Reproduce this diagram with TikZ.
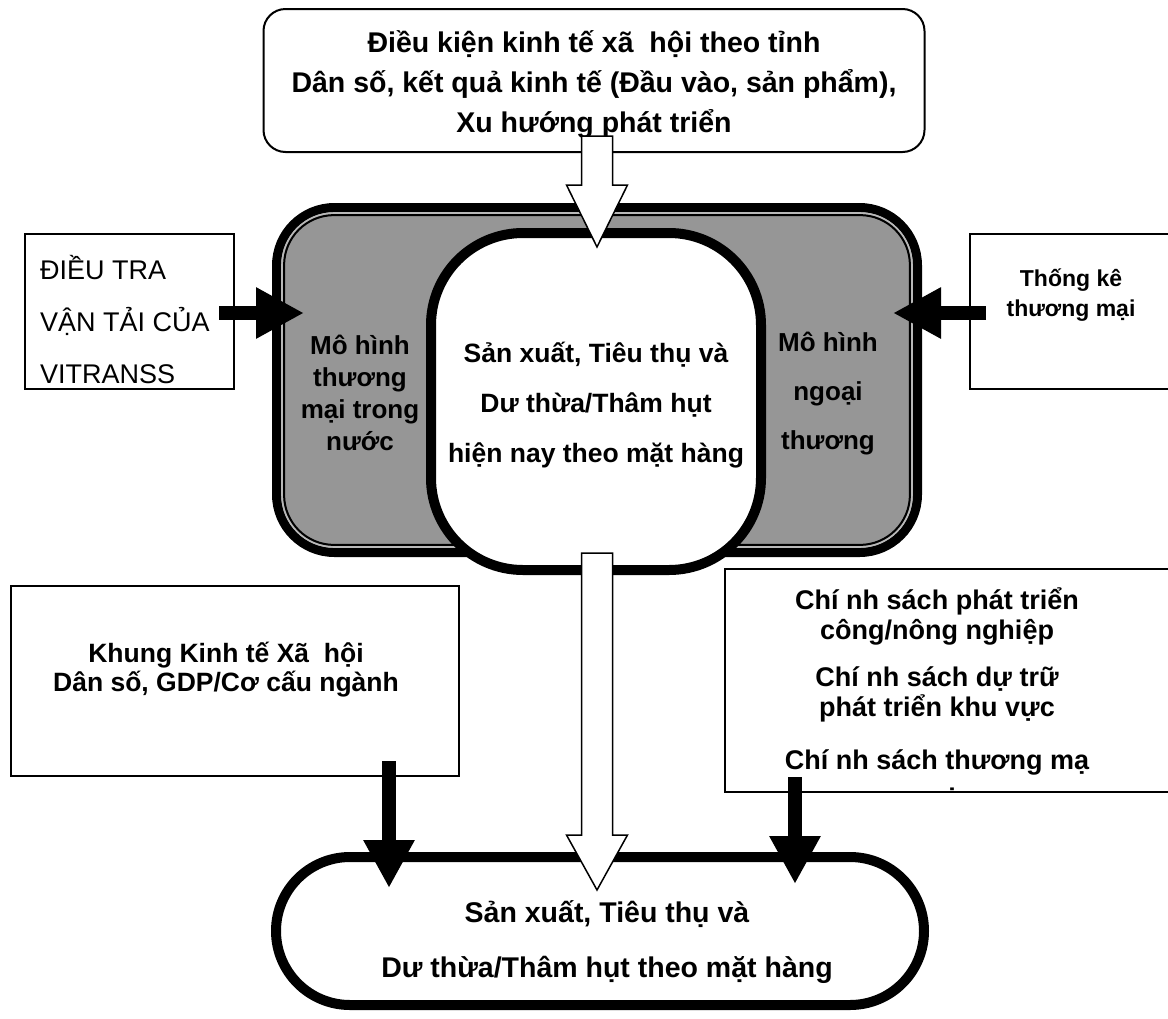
\documentclass[tikz,border=0pt]{standalone}
\usepackage{fontspec}
\setmainfont{Liberation Sans}
\usetikzlibrary{positioning,arrows.meta,calc}
\definecolor{panelgray}{RGB}{150,150,150}
\definecolor{gapgray}{RGB}{185,185,185}
\newcommand{\hollowarrow}[3]{%
  \draw[hollow] ($(#1)+(-15.5,0)$) -- ($(#2)+(-15.5,-#3)$) -- ($(#2)+(-30.5,-#3)$) -- (#2)
    -- ($(#2)+(30.5,-#3)$) -- ($(#2)+(15.5,-#3)$) -- ($(#1)+(15.5,0)$) -- cycle;}

\begin{document}
\begin{tikzpicture}[x=1pt, y=-1pt,
  frame/.style={draw, line width=2pt, fill=white, inner sep=0pt, outer sep=0pt},
  lbl/.style={align=center, inner sep=0pt},
  blk/.style={line width=14pt, -{Triangle[length=48pt, width=48pt]}},
  hollow/.style={draw, fill=white, line width=1.5pt, line join=miter}]
\useasboundingbox (0,0) rectangle (1168,1018);
\node[frame, rounded corners=22pt, minimum width=661pt, minimum height=143pt] (cond) at (594,80.5) {};
\node[lbl, font=\fontsize{28.5}{40}\selectfont\bfseries] (condtext) at (594,85)
  {Điều kiện kinh tế xã~ hội theo tỉnh\\Dân số, kết quả kinh tế (Đầu vào, sản phẩm),\\Xu hướng phát triển};
\node[frame, line width=9pt, fill=panelgray, rounded corners=58pt, minimum width=641pt, minimum height=345pt] (panel) at (597,380) {};
\draw[gapgray, line width=1.8pt, rounded corners=52pt] ($(panel.north west)+(5.6,5.6)$) rectangle ($(panel.south east)+(-5.6,-5.6)$);
\draw[line width=2pt, rounded corners=50pt] ($(panel.north west)+(7.6,7.6)$) rectangle ($(panel.south east)+(-7.6,-7.6)$);
\node[frame, line width=10pt, rounded corners=92pt, minimum width=330pt, minimum height=337pt] (stock) at (596,401.5) {};
\node[lbl, font=\fontsize{26.5}{50}\selectfont\bfseries] (stocktext) at (596,405)
  {Sản xuất, Tiêu thụ và\\Dư thừa/Thâm hụt\\hiện nay theo mặt hàng};
\node[lbl, font=\fontsize{26}{32}\selectfont\bfseries] (domestic) at (360,393) {Mô hình\\thương\\mại trong\\nước};
\node[lbl, font=\fontsize{26}{49}\selectfont\bfseries] (foreign) at (828,394) {Mô hình\\ngoại\\thương};
\node[frame, minimum width=209pt, minimum height=155pt] (survey) at (129.5,311.5) {};
\node[lbl, align=left, anchor=west, font=\fontsize{27}{52}\selectfont] (surveytext) at (40,320) {ĐIỀU TRA\\VẬN TẢI CỦA\\VITRANSS};
\node[frame, minimum width=220pt, minimum height=155pt] (tradestat) at (1080,311.5) {};
\node[lbl, font=\fontsize{23}{30}\selectfont\bfseries] (tradetext) at (1071,295) {Thống kê\\thương mại};
\node[frame, minimum width=448pt, minimum height=190pt] (frame) at (235,681) {};
\node[lbl, font=\fontsize{26.5}{29}\selectfont\bfseries] (frametext) at (226,670) {Khung Kinh tế Xã~ hội\\Dân số, GDP/Cơ cấu ngành};
\node[frame, minimum width=465pt, minimum height=223pt] (policy) at (957.5,680.5) {};
\node[lbl, font=\fontsize{27}{30}\selectfont\bfseries] (policytext) at (937,681)
  {Chí nh sách phát triển\\công/nông nghiệp\\[17pt]Chí nh sách dự trữ\\phát triển khu vực\\[23pt]Chí nh sách thương mạ};
\begin{scope}
\clip (policy.north west) rectangle (policy.south east);
\node[lbl, font=\fontsize{27}{30}\selectfont\bfseries] (policyi) at (952,798) {i};
\end{scope}
\node[frame, line width=10pt, rounded corners=74pt, minimum width=648pt, minimum height=148pt] (result) at (600,931) {};
\node[lbl, font=\fontsize{28.5}{55}\selectfont\bfseries] (resulttext) at (607,942) {Sản xuất, Tiêu thụ và\\Dư thừa/Thâm hụt theo mặt hàng};
\coordinate (tipA) at (304,313);
\coordinate (tipB) at (893,313);
\coordinate (tipC) at (389,888);
\coordinate (tipD) at (795,884);
\coordinate (tipE) at (597,247);
\coordinate (tipF) at (597,890);
\draw[blk] ($(survey.east |- tipA)+(-15,0)$) -- (tipA);
\draw[blk] ($(tradestat.west |- tipB)+(16,0)$) -- (tipB);
\draw[blk] ($(frame.south -| tipC)+(0,-15)$) -- (tipC);
\draw[blk] ($(policy.south -| tipD)+(0,-15)$) -- (tipD);
\coordinate (condout) at ($(cond.south -| tipE)+(0,-16)$);
\coordinate (stockout) at ($(stock.south -| tipF)+(0,-17)$);
\hollowarrow{condout}{tipE}{62}
\hollowarrow{stockout}{tipF}{55}
\end{tikzpicture}
\end{document}
